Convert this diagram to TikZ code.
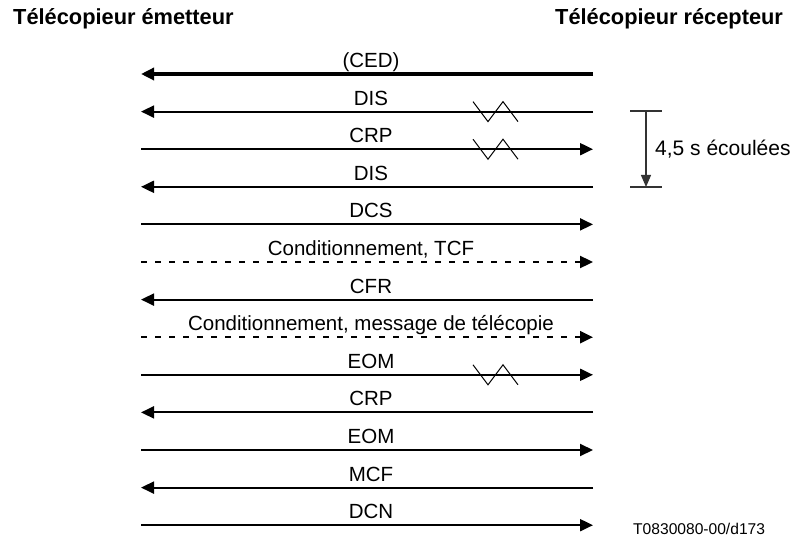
\documentclass[tikz,border=0pt]{standalone}
\usepackage{fontspec}
\setmainfont{Liberation Sans}
\usetikzlibrary{arrows.meta}
\begin{document}
\begin{tikzpicture}[x=1pt,y=-1pt,
  msg/.style={line width=2pt,-{Triangle[length=13pt,width=12pt]}},
  ced/.style={line width=4pt,-{Triangle[length=13pt,width=12pt]}},
  dotmsg/.style={msg,line width=2.3pt,dash pattern=on 5.5pt off 8.5pt},
  lbl/.style={anchor=base,inner sep=0pt,font=\fontsize{20.5}{24}\selectfont},
  hdr/.style={anchor=base west,inner sep=0pt,font=\fontsize{21.8}{26}\selectfont\bfseries},
  zig/.style={line width=1pt},
  timer/.style={line width=1.2pt,draw=black!80}
]
\useasboundingbox (0,0) rectangle (797,540);
\node[hdr] (h1) at (13,25) {Télécopieur émetteur};
\node[hdr] (h2) at (555,25) {Télécopieur récepteur};
% row coordinates
\foreach \i in {0,...,12}{
  \pgfmathsetmacro{\yy}{74+37.6*\i}
  \coordinate (L\i) at (141,\yy);
  \coordinate (R\i) at (593,\yy);
  \coordinate (T\i) at (371,\yy-6.5);
}
\draw[ced] (R0) -- (L0);    \node[lbl] (t0) at (T0) {(CED)};
\draw[msg] (R1) -- (L1);    \node[lbl] (t1) at (T1) {DIS};
\draw[msg] (L2) -- (R2);    \node[lbl] (t2) at (T2) {CRP};
\draw[msg] (R3) -- (L3);    \node[lbl] (t3) at (T3) {DIS};
\draw[msg] (L4) -- (R4);    \node[lbl] (t4) at (T4) {DCS};
\draw[dotmsg] (L5) -- (R5); \node[lbl] (t5) at (T5) {Conditionnement, TCF};
\draw[msg] (R6) -- (L6);    \node[lbl] (t6) at (T6) {CFR};
\draw[dotmsg] (L7) -- (R7); \node[lbl] (t7) at (T7) {Conditionnement, message de télécopie};
\draw[msg] (L8) -- (R8);    \node[lbl] (t8) at (T8) {EOM};
\draw[msg] (R9) -- (L9);    \node[lbl] (t9) at (T9) {CRP};
\draw[msg] (L10) -- (R10);  \node[lbl] (t10) at (T10) {EOM};
\draw[msg] (R11) -- (L11);  \node[lbl] (t11) at (T11) {MCF};
\draw[msg] (L12) -- (R12);  \node[lbl] (t12) at (T12) {DCN};
% zigzags (lost frames)
\foreach \i in {1,2,8}{
  \draw[zig] ([xshift=473pt,yshift=10pt]L\i -| 0,0) -- ++(15,20) -- ++(15,-20) -- ++(15,20);
}
% timer
\coordinate (tt) at (646,111);
\coordinate (tb) at (646,187);
\draw[timer] (630,111) -- (662,111);
\draw[timer] (630,187) -- (662,187);
\draw[timer,-{Triangle[length=12pt,width=10pt]}] (tt) -- (tb);
\node[anchor=base west,inner sep=0pt,font=\fontsize{21}{24}\selectfont] (tlab) at (655,156) {4,5 s écoulées};
\node[anchor=base west,inner sep=0pt,font=\fontsize{15.6}{18}\selectfont] (ref) at (633,534) {T0830080-00/d173};
\end{tikzpicture}
\end{document}
